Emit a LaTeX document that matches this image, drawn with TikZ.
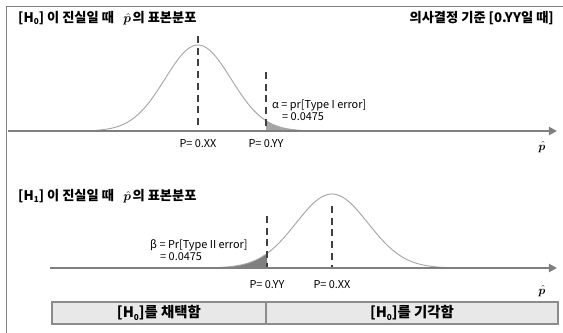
\documentclass[tikz,border=0pt]{standalone}
\usepackage{fontspec}
\setmainfont{Noto Sans CJK KR}
\usepackage{bm}
\usepackage{tikz}
\usetikzlibrary{arrows.meta,positioning}
\definecolor{CurveGray}{HTML}{A6A6A6}
\definecolor{AxisGray}{HTML}{7F7F7F}
\definecolor{DashDark}{HTML}{404040}
\definecolor{BoxFill}{HTML}{E8E8E8}
\definecolor{BoxLine}{HTML}{8C8C8C}
\newcommand{\Hn}[1]{H\raisebox{-0.3ex}{\scriptsize #1}}
\newcommand{\phat}{$\hat{\bm{p}}$}

\tikzset{
  curveline/.style={draw=CurveGray,line width=0.8pt},
  axisline/.style={draw=AxisGray,line width=2.4pt,-{Triangle[length=7pt,width=7pt]}},
  cutline/.style={draw=DashDark,line width=1.2pt,dash pattern=on 6pt off 4pt},
  ttl/.style={font=\bfseries\fontsize{11.3}{13}\selectfont,inner sep=0pt},
  lbl/.style={font=\fontsize{9.3}{11}\selectfont,inner sep=0pt},
  decbox/.style={draw=BoxLine,fill=BoxFill,line width=1pt,inner sep=0pt,
    minimum height=6.6mm,font=\bfseries\fontsize{12.3}{14}\selectfont}
}

\begin{document}
\begin{tikzpicture}[x=0.3mm,y=-0.3mm]
    \useasboundingbox (0,0) rectangle (563,333);
    % frame
    \draw[AxisGray,line width=0.8pt] (6,333) -- (6,6) -- (563,6);
    % titles
    \node[ttl,anchor=west] (t0) at (18,18)
      {[\Hn{0}] 이 진실일 때\hspace{0.7em}\phat\kern0.12em 의 표본분포};
    \node[ttl,anchor=east] (crit) at (554,18) {의사결정 기준 [0.YY일 때]};
    \node[ttl,anchor=west] (t1) at (18,196)
      {[\Hn{1}] 이 진실일 때\hspace{0.7em}\phat\kern0.12em 의 표본분포};

    % upper: sampling distribution under H0
    \fill[CurveGray] (266,131) -- plot[domain=266:310,samples=30]
      (\x,{131-86*exp(-((\x-198)/33)^2/2)}) -- (310,131) -- cycle;
    \draw[curveline] plot[domain=96:302,samples=100]
      (\x,{131-86*exp(-((\x-198)/33)^2/2)});
    \coordinate (m0top) at (198,36);
    \coordinate (m0bot) at (198,131);
    \coordinate (c0top) at (266,72);
    \coordinate (c0bot) at (266,131);
    \draw[cutline] (m0top) -- (m0bot);
    \draw[cutline] (c0top) -- (c0bot);
    \coordinate (ax0s) at (8,131);
    \coordinate (ax0e) at (557,131);
    \draw[axisline] (ax0s) -- (ax0e);
    \node[lbl] (xx0) at (198,144) {P= 0.XX};
    \node[lbl] (yy0) at (266,144) {P= 0.YY};
    \node[inner sep=0pt] (ph0) at (542,147) {\phat};
    \node[lbl,anchor=west] (alpha) at (272,105) {α = pr[Type I error]};
    \node[lbl,anchor=west] (alv) at (282,117) {= 0.0475};

    % lower: sampling distribution under H1
    \fill[AxisGray] (222,268) -- plot[domain=222:267,samples=30]
      (\x,{268-74*exp(-((\x-332)/36)^2/2)}) -- (267,268) -- cycle;
    \draw[curveline] plot[domain=220:446,samples=100]
      (\x,{268-74*exp(-((\x-332)/36)^2/2)});
    \coordinate (m1top) at (332,206);
    \coordinate (m1bot) at (332,268);
    \coordinate (c1top) at (267,216);
    \coordinate (c1bot) at (267,268);
    \draw[cutline] (m1top) -- (m1bot);
    \draw[cutline] (c1top) -- (c1bot);
    \coordinate (ax1s) at (50,268);
    \coordinate (ax1e) at (557,268);
    \draw[axisline] (ax1s) -- (ax1e);
    \node[lbl] (yy1) at (267,285) {P= 0.YY};
    \node[lbl] (xx1) at (332,285) {P= 0.XX};
    \node[inner sep=0pt] (ph1) at (542,291) {\phat};
    \node[lbl,anchor=west] (beta) at (150,245) {β = Pr[Type II error]};
    \node[lbl,anchor=west] (bev) at (160,257) {= 0.0475};

    % decision boxes
    \node[decbox,minimum width=64.2mm] (acc) at (159,313) {[\Hn{0}]를 채택함};
    \node[decbox,minimum width=87.6mm] (rej) at (412,313) {[\Hn{0}]를 기각함};
  \end{tikzpicture}
\end{document}
